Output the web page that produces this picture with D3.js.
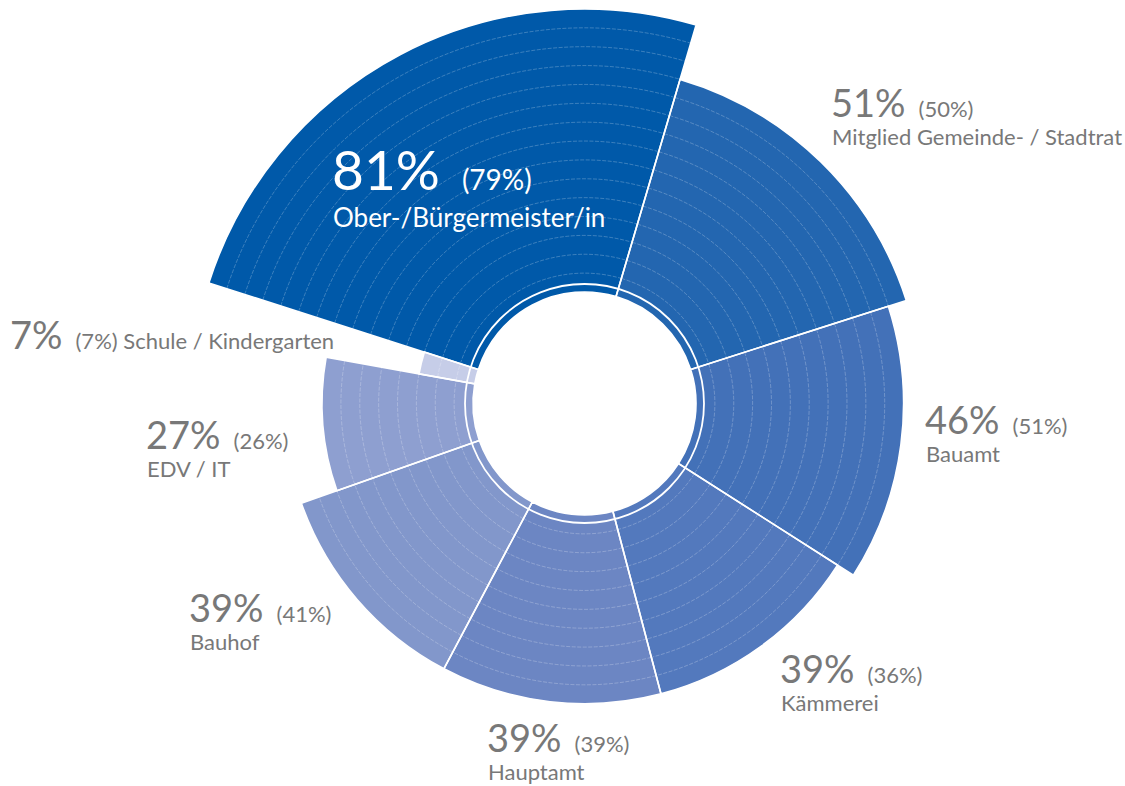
<!DOCTYPE html>
<html>
<head>
<meta charset="utf-8">
<script src="https://cdn.jsdelivr.net/npm/d3@7"></script>
<style>
  html, body { margin: 0; padding: 0; background: #fff; }
  svg { display: block; font-family: Lato, "Noto Sans", sans-serif; }
</style>
</head>
<body>
<svg id="chart" width="1125" height="786"></svg>
<script>
// ── data ──────────────────────────────────────────────
const categories = [
  'Ober-/Bürgermeister/in', 'Mitglied Gemeinde- / Stadtrat', 'Bauamt', 'Kämmerei',
  'Hauptamt', 'Bauhof', 'EDV / IT', 'Schule / Kindergarten'
];
const values     = [81, 51, 46, 39, 39, 39, 27, 7];
const prevValues = [79, 50, 51, 36, 39, 41, 26, 7];
const colors     = ['#0059a9', '#2366b0', '#4371b8', '#5379bd', '#6c86c3', '#8297cb', '#8e9fd0', '#c6cde8'];

// label anchors (layout only)
const labelAt = [[332, 190], [831, 117], [925, 434], [780, 683], [487, 752], [189, 622], [146, 449], [10, 349]];

// ── layout ────────────────────────────────────────────
const CX = 584.5, CY = 403.5;
const INNER = 111.5;     // white hole
const STEP = 18.87;      // ring spacing
const START = -72.2 * Math.PI / 180;
const GREY = '#787878';

const svg = d3.select('#chart');
const g = svg.append('g').attr('transform', `translate(${CX},${CY})`);

// radius grows with value, snapped to the ring grid
const rScale = d3.scalePow().exponent(0.44).domain([0, 81]).range([55.7, 394.4]);
const outerR = v => INNER + STEP * Math.round((rScale(v) - INNER) / STEP);

const pie = d3.pie().sort(null).value(d => d.v).startAngle(START).endAngle(START + 2 * Math.PI);
const rows = categories.map((c, i) => ({ c, v: values[i], p: prevValues[i], color: colors[i], i }));
const arcs = pie(rows);

const arc = d3.arc().innerRadius(INNER).outerRadius(d => outerR(d.data.v));

// segments
g.selectAll('path.seg')
  .data(arcs)
  .join('path')
  .attr('class', 'seg')
  .attr('d', arc)
  .attr('fill', d => d.data.color);

// ring grid inside each segment
arcs.forEach(d => {
  const R = outerR(d.data.v);
  for (let r = INNER + STEP; r < R - 2; r += STEP) {
    const p = d3.path();
    p.arc(0, 0, r, d.startAngle - Math.PI / 2, d.endAngle - Math.PI / 2);
    g.append('path')
      .attr('d', p.toString())
      .attr('fill', 'none')
      .attr('stroke', '#fff')
      .attr('stroke-opacity', 0.4)
      .attr('stroke-width', 0.6)
      .attr('stroke-dasharray', '4 1.5');
  }
});

// white separators
g.selectAll('path.sep')
  .data(arcs)
  .join('path')
  .attr('class', 'sep')
  .attr('d', arc)
  .attr('fill', 'none')
  .attr('stroke', '#fff')
  .attr('stroke-width', 1.6);

// inner white ring
g.append('circle')
  .attr('r', 119.5)
  .attr('fill', 'none')
  .attr('stroke', '#fff')
  .attr('stroke-width', 1.8);

// ── labels ────────────────────────────────────────────
rows.forEach((d, i) => {
  const [x, y] = labelAt[i];
  const main = i === 0;
  const fill = main ? '#fff' : GREY;
  const big = svg.append('text')
    .attr('x', x).attr('y', y)
    .attr('fill', fill)
    .attr('font-size', main ? 55 : 38)
    .text(`${d.v}%`);
  const bw = big.node().getComputedTextLength();
  const px = x + bw + (main ? 22 : 13);
  const small = svg.append('text')
    .attr('x', px).attr('y', y)
    .attr('fill', fill)
    .attr('font-size', main ? 28 : 22)
    .text(`(${d.p}%)`);
  if (i === rows.length - 1) {
    small.text(`(${d.p}%) ${d.c}`);
  } else {
    svg.append('text')
      .attr('x', x + 1).attr('y', y + (main ? 37 : 28))
      .attr('fill', fill)
      .attr('font-size', main ? 26 : 22)
      .text(d.c);
  }
});
</script>
</body>
</html>
